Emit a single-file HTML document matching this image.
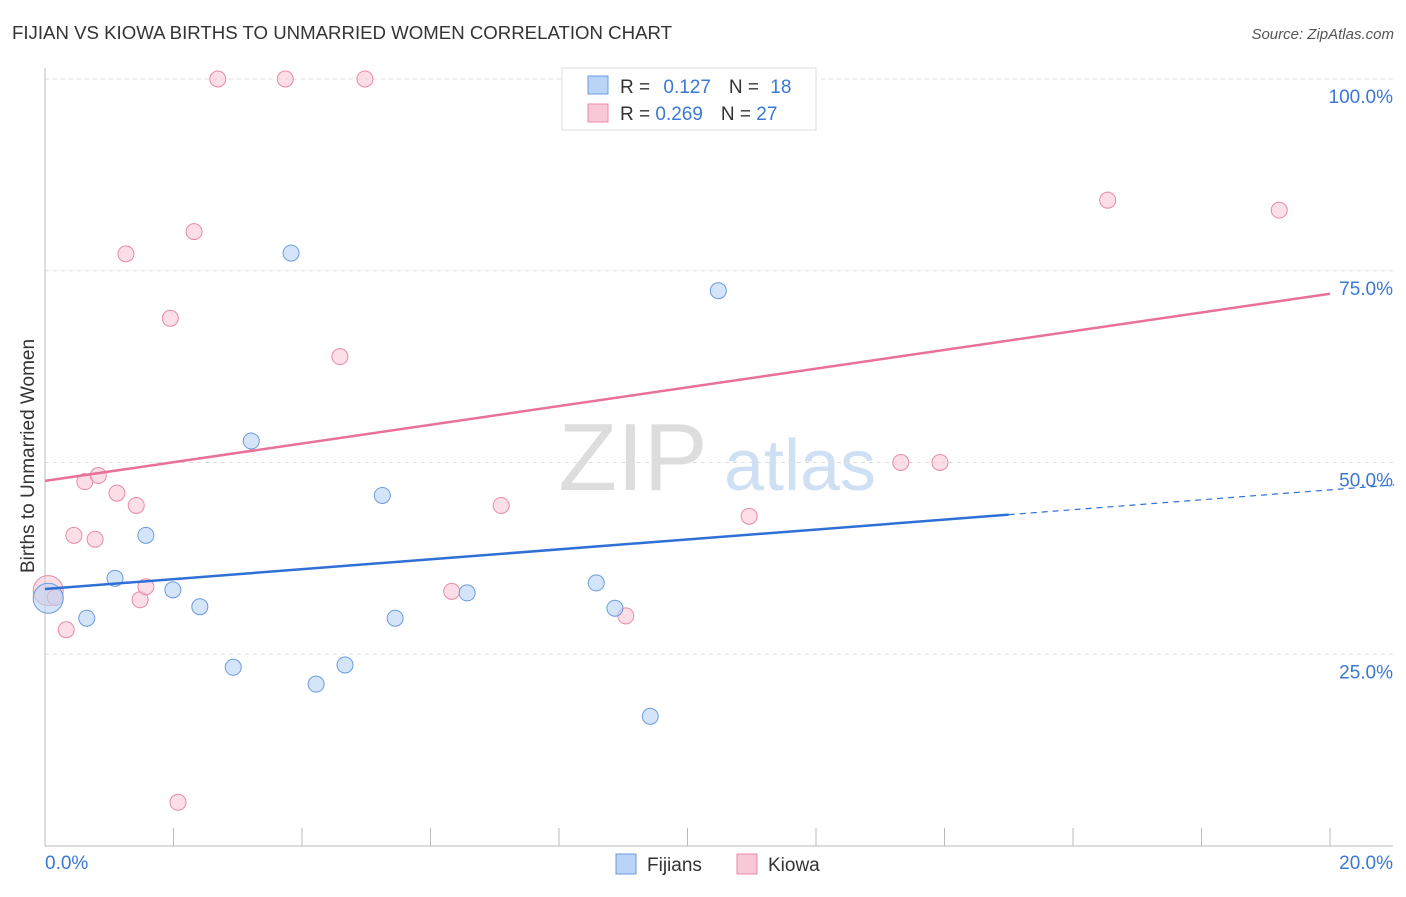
<!DOCTYPE html>
<html><head><meta charset="utf-8"><style>
body{margin:0;background:#fff;font-family:"Liberation Sans",sans-serif;}
svg text{font-family:"Liberation Sans",sans-serif;}
</style></head><body>
<svg id="c" width="1406" height="892" xmlns="http://www.w3.org/2000/svg">
<text x="12" y="39" font-size="18" fill="#333" textLength="660" lengthAdjust="spacingAndGlyphs">FIJIAN VS KIOWA BIRTHS TO UNMARRIED WOMEN CORRELATION CHART</text>
<text x="1394" y="39" font-size="15" fill="#555" text-anchor="end" font-style="italic">Source: ZipAtlas.com</text>
<text x="633" y="490" font-size="96" fill="#ddd" font-family="Liberation Serif" text-anchor="middle">ZIP</text>
<text x="800" y="490" font-size="72" fill="#cfe0f5" text-anchor="middle">atlas</text>
<text transform="translate(34,456) rotate(-90)" font-size="19" fill="#333" text-anchor="middle">Births to Unmarried Women</text>
<g id="grid"></g><g id="marks"></g>
<g>
<rect x="562" y="68" width="254" height="62" fill="#fff" stroke="#ddd"/>
<rect x="588" y="76" width="20" height="18" fill="#b9d4f5" stroke="#6a9be0"/>
<text x="620" y="93" font-size="19" fill="#333">R = <tspan fill="#3a78d4" dx="8">0.127</tspan><tspan dx="18">N = </tspan><tspan fill="#3a78d4" dx="6">18</tspan></text>
<rect x="588" y="104" width="20" height="18" fill="#f9c8d6" stroke="#e88aa8"/>
<text x="620" y="120" font-size="19" fill="#333">R = <tspan fill="#3a78d4">0.269</tspan><tspan dx="18">N = </tspan><tspan fill="#3a78d4">27</tspan></text>
</g>
<g>
<rect x="616" y="854" width="20" height="20" fill="#b9d4f5" stroke="#6a9be0"/>
<text x="647" y="871" font-size="19" fill="#333">Fijians</text>
<rect x="737" y="854" width="20" height="20" fill="#f9c8d6" stroke="#e88aa8"/>
<text x="768" y="871" font-size="19" fill="#333">Kiowa</text>
</g>
</svg>
<script>
const fijX=[0.05,0.65,1.09,1.57,1.99,2.41,2.93,3.21,3.83,4.22,4.67,5.25,5.45,6.57,8.58,8.87,9.42,10.48];
const fijY=[32.3,29.7,34.9,40.5,33.4,31.2,23.3,52.8,77.3,21.1,23.6,45.7,29.7,33.0,34.3,31.0,16.9,72.4];
const kioX=[0.05,0.16,0.33,0.45,0.62,0.78,0.83,1.12,1.26,1.42,1.48,1.57,1.95,2.07,2.32,2.69,3.74,4.59,4.98,6.33,7.1,9.04,10.96,13.32,13.93,16.54,19.21];
const kioY=[33.3,32.4,28.2,40.5,47.5,40.0,48.3,46.0,77.2,44.4,32.1,33.8,68.8,5.7,80.1,100,100,63.8,100,33.2,44.4,30.0,43.0,50.0,50.0,84.2,82.9];
const yTicks=[25,50,75,100];const yTickLabels=["25.0%","50.0%","75.0%","100.0%"];
const fijLine=[33.5,43.2];const kioLine=[47.6,72.0];
const X=v=>45+v*64.25, Y=v=>846-v*7.67;
const NS="http://www.w3.org/2000/svg";
function mk(t,a,p){const e=document.createElementNS(NS,t);for(const k in a)e.setAttribute(k,a[k]);p.appendChild(e);return e;}
const g=document.getElementById('grid'),m=document.getElementById('marks');
yTicks.forEach((t,i)=>{
const l=mk('line',{x1:45,x2:1393,y1:Y(t),y2:Y(t),stroke:'#ddd','stroke-dasharray':'4,4'},g);


const tx=mk('text',{x:1393,y:Y(t)+24,'font-size':19,fill:'#3a78d4','text-anchor':'end'},g);tx.textContent=yTickLabels[i];


});
const ax=mk('line',{x1:45,x2:45,y1:68,y2:846,stroke:'#bbb'},g);


const bx=mk('line',{x1:45,x2:1393,y1:846,y2:846,stroke:'#bbb'},g);


for(let i=0;i<=10;i++){const t=mk('line',{x1:X(i*2),x2:X(i*2),y1:828,y2:846,stroke:'#bbb'},g);

}
const x0=mk('text',{x:45,y:869,'font-size':19,fill:'#3a78d4'},g);x0.textContent='0.0%';


const x1=mk('text',{x:1393,y:869,'font-size':19,fill:'#3a78d4','text-anchor':'end'},g);x1.textContent='20.0%';


function pts(xs,ys,fill,stroke,name,big){xs.forEach((x,i)=>{const c=mk('circle',{cx:X(x),cy:Y(ys[i]),r:(i===0?big:8),fill:fill,'fill-opacity':0.6,stroke:stroke,'stroke-width':1},m);

});}
pts(kioX,kioY,'#f9c8d6','#e88aa8','kiowa-point',15);
pts(fijX,fijY,'#b9d4f5','#6a9be0','fijian-point',15);
const fy=x=>fijLine[0]+(fijLine[1]-fijLine[0])*x/15;
const f1=mk('line',{x1:X(0),y1:Y(fy(0)),x2:X(15),y2:Y(fy(15)),stroke:'#2f6fd6','stroke-width':2.5},m);


const f2=mk('line',{x1:X(15),y1:Y(fy(15)),x2:X(21),y2:Y(fy(21)),stroke:'#2f6fd6','stroke-width':1.2,'stroke-dasharray':'6,5'},m);


const k1=mk('line',{x1:X(0),y1:Y(kioLine[0]),x2:X(20),y2:Y(kioLine[1]),stroke:'#e8709a','stroke-width':2.5},m);


</script>
</body></html>
